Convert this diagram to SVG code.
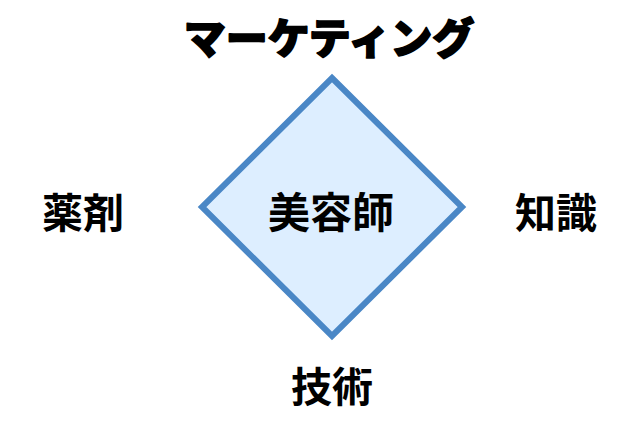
<svg xmlns="http://www.w3.org/2000/svg" width="640" height="427" viewBox="0 0 640 427">
<style>
.t{font-family:"Noto Sans CJK JP","Noto Sans CJK SC",sans-serif;font-weight:700;fill:#000;text-anchor:middle;dominant-baseline:central}
.heavy{font-weight:900;stroke:#000;stroke-width:1.6;stroke-linejoin:round}
</style>
<rect width="640" height="427" fill="#fff"/>
<g id="center">
<polygon points="332,78 462,207 332,336 202,207" fill="#DDEEFF" stroke="#4A87C6" stroke-width="6"/>
<text class="t" x="331" y="209" font-size="42">美容師</text>
</g>
<g id="top"><text class="t heavy" x="329" y="35" font-size="42">マーケティング</text></g>
<g id="left"><text class="t" x="83" y="210" font-size="41">薬剤</text></g>
<g id="right"><text class="t" x="556" y="210" font-size="41">知識</text></g>
<g id="bottom"><text class="t" x="332" y="384" font-size="41">技術</text></g>
<g id="connectors"></g>
</svg>
